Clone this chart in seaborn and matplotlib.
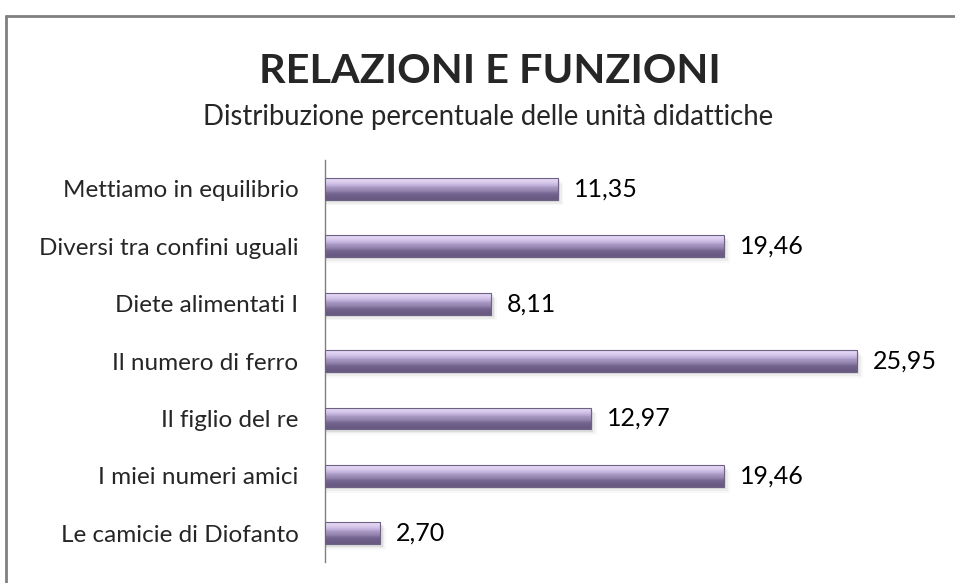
import numpy as np
import pandas as pd
import matplotlib
matplotlib.use("Agg")
import matplotlib.pyplot as plt
import seaborn as sns
from matplotlib.patches import Rectangle
from matplotlib.lines import Line2D

# --- DATA ---
units = [
    "Mettiamo in equilibrio",
    "Diversi tra confini uguali",
    "Diete alimentati I",
    "Il numero di ferro",
    "Il figlio del re",
    "I miei numeri amici",
    "Le camicie di Diofanto",
]
percent = [11.35, 19.46, 8.11, 25.95, 12.97, 19.46, 2.70]

TITLE = "RELAZIONI E FUNZIONI"
SUBTITLE = "Distribuzione percentuale delle unità didattiche"

df = pd.DataFrame({"unit": units, "pct": percent})

sns.set_style("white")
plt.rcParams['font.family'] = ['Lato', 'DejaVu Sans']

fig = plt.figure(figsize=(9.55, 5.83), dpi=100)
ax = fig.add_axes([0.3403, 0.036, 0.644, 0.6895])

sns.barplot(data=df, x="pct", y="unit", color="#a393bb", width=0.38,
            edgecolor="none", ax=ax, zorder=3)

# gradient + shadow for each bar
grad = np.array([0.0, 0.08, 0.2, 0.45, 0.75, 0.92, 1.0]).reshape(-1, 1)
cmap = matplotlib.colors.LinearSegmentedColormap.from_list(
    "bar", ["#e6d9f7", "#c6b5de", "#a696c2", "#9c8cb6", "#8e7ea8", "#756592", "#695a82"])
for p in ax.patches:
    x0, y0 = p.get_x(), p.get_y()
    w, h = p.get_width(), p.get_height()
    # soft shadow
    for k, a in enumerate([0.10, 0.07, 0.04]):
        d = 0.04 + 0.03 * k
        ax.add_patch(Rectangle((x0, y0 + d), w + 0.12 + 0.08 * k, h,
                               facecolor="#606060", alpha=a, edgecolor="none", zorder=2))
    im = ax.imshow(grad, extent=(x0, x0 + w, y0 + h, y0), aspect="auto",
                   cmap=cmap, zorder=4, interpolation="bicubic")
    im.set_clip_path(p)
    ax.add_patch(Rectangle((x0, y0), w, h, facecolor="none",
                           edgecolor="#6e6284", linewidth=0.8, zorder=5))

ax.set_xlim(0, 30)
ax.set_ylim(len(units) - 0.5, -0.5)

for i, v in enumerate(percent):
    ax.text(v + 0.78, i, f"{v:.2f}".replace(".", ","), va="center", ha="left",
            fontsize=18, color="#000000")

ax.set_xlabel("")
ax.set_ylabel("")
ax.set_xticks([])
ax.tick_params(axis="y", length=0, pad=19, labelsize=17.5)
for s in ["top", "right", "bottom"]:
    ax.spines[s].set_visible(False)
ax.spines["left"].set_color("#808080")
ax.spines["left"].set_linewidth(1.0)

fig.text(0.5125, 0.878, TITLE, ha="center", va="center", fontsize=29.8,
         fontweight="bold")
fig.text(0.5115, 0.80, SUBTITLE, ha="center", va="center", fontsize=19.8)

# outer frame (top and left edges)
fig.add_artist(Line2D([5.5 / 955, 1.0], [1 - 15.5 / 583, 1 - 15.5 / 583],
                      transform=fig.transFigure, color="#808080", linewidth=2))
fig.add_artist(Line2D([5.5 / 955, 5.5 / 955], [0.0, 1 - 15.5 / 583],
                      transform=fig.transFigure, color="#808080", linewidth=2))

fig.savefig("out.png", dpi=100)
